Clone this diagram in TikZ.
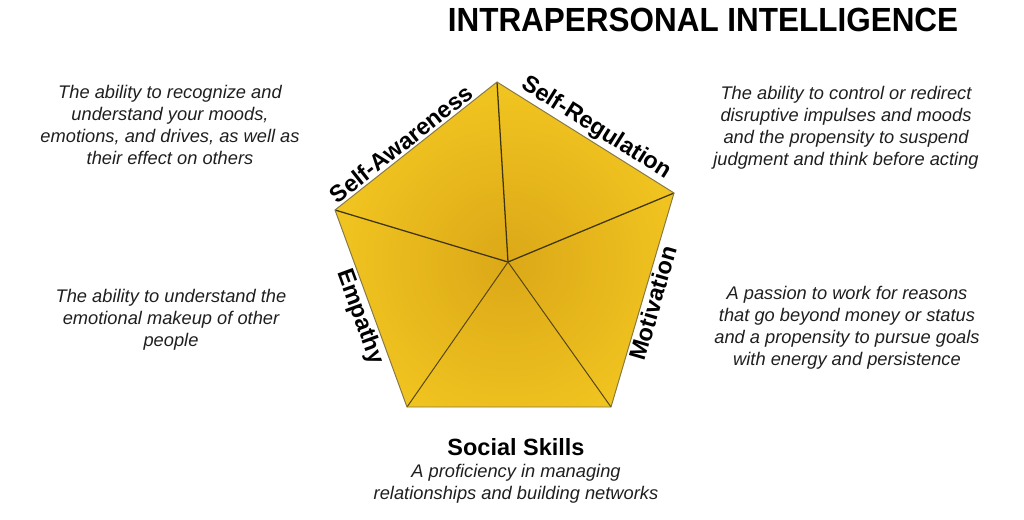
\documentclass[tikz,border=0pt]{standalone}
\usepackage{fontspec}
\setmainfont{Liberation Sans}
\usetikzlibrary{positioning}
\definecolor{gold}{RGB}{250,210,36}
\definecolor{amber}{RGB}{220,168,24}
\definecolor{rim}{RGB}{105,88,22}

\begin{document}
\begin{tikzpicture}[x=0.025cm, y=-0.025cm,
desc/.style={font=\itshape\fontsize{13}{15.6}\selectfont, align=center, text=black!88},
side/.style={font=\bfseries\fontsize{16.7}{18}\selectfont, sloped, inner sep=1.5pt},
spoke/.style={draw=rim!60!black, line width=0.9pt},
]
\useasboundingbox (0,0) rectangle (1024,519);

% Titel
\node[font=\bfseries\fontsize{23.8}{26}\selectfont] (title) at (703,20) {\scalebox{0.94}[1]{INTRAPERSONAL INTELLIGENCE}};

% Fuenfeck
\coordinate (top) at (497,82);
\coordinate (ur) at (674,193);
\coordinate (lr) at (611,407);
\coordinate (ll) at (407,407);
\coordinate (ul) at (335,210);
\coordinate (c) at (508,262);

\begin{scope}
\clip (top) -- (ur) -- (lr) -- (ll) -- (ul) -- cycle;
\shade[inner color=amber, outer color=gold] (c) circle (6.5cm);
\end{scope}
\draw[spoke] (c) -- (top);
\draw[spoke] (c) -- (ul);
\draw[spoke] (c) -- (ur);
\draw[spoke, draw=rim!80!black, line width=0.7pt] (c) -- (ll);
\draw[spoke, draw=rim!80!black, line width=0.7pt] (c) -- (lr);
\draw[rim!80, line width=0.7pt] (top) -- (ur) -- (lr) -- (ll) -- (ul) -- cycle;

% Seiten
\path (ul) -- node[side, above, pos=0.45] (aware) {Self-Awareness} (top);
\path (top) -- node[side, above, pos=0.52] (regul) {Self-Regulation} (ur);
\path (lr) -- node[side, below, pos=0.5] (motiv) {Motivation} (ur);
\path (ul) -- node[side, below, pos=0.52] (empat) {Empathy} (ll);
\node[font=\bfseries\fontsize{16.7}{18}\selectfont] (social) at (516,447) {Social Skills};

% Beschreibungen
\node[desc] (awaretxt) at (170,125) {The ability to recognize and\\understand your moods,\\emotions, and drives, as well as\\their effect on others};
\node[desc] (regultxt) at (846,128) {The ability to control or redirect\\disruptive impulses and moods\\and the propensity to suspend\\judgment and think before acting};
\node[desc] (empattxt) at (171,320) {The ability to understand the\\emotional makeup of other\\people};
\node[desc] (motivtxt) at (847,328) {A passion to work for reasons\\that go beyond money or status\\and a propensity to pursue goals\\with energy and persistence};
\node[desc, below=-1pt of social] (socialtxt) {A proficiency in managing\\relationships and building networks};

\end{tikzpicture}
\end{document}
